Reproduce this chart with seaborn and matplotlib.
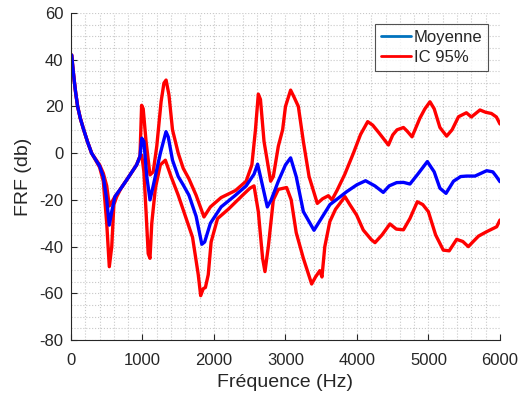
import numpy as np
import pandas as pd
import seaborn as sns
import matplotlib.pyplot as plt
from matplotlib.lines import Line2D
from matplotlib.ticker import MultipleLocator

# values
freq_up = [10, 25, 42, 65, 93, 130, 172, 230, 289, 400, 452, 500, 536, 570, 615, 700, 778, 918, 965, 988, 1010, 1050,
           1105, 1150, 1200, 1260, 1300, 1330, 1370, 1420, 1500, 1570, 1650, 1750, 1860, 1950, 2100, 2300, 2450, 2530,
           2580, 2620, 2650, 2700, 2793, 2830, 2900, 2960, 3000, 3072, 3120, 3180, 3250, 3330, 3445, 3520, 3600, 3650,
           3720, 3830, 3950, 4050, 4150, 4220, 4300, 4440, 4500, 4560, 4650, 4700, 4770, 4880, 4950, 5021, 5080, 5160,
           5254, 5330, 5420, 5530, 5600, 5720, 5800, 5880, 5950, 6000]
ic_up = [42, 37, 32, 26, 20, 15, 10.6, 5, 0, -5, -8.6, -14, -22.6, -21, -18.6, -15, -11.5, -5, -1.4, 20.5, 19, 5,
         -9.3, -8, 3, 22, 30, 31.3, 25, 10, 0, -6.5, -11, -18, -27.3, -23, -19, -16, -12, -5,
         10, 25.3, 23, 5, -12, -10, 3, 10, 20, 27, 24, 20, 5, -10, -21.5, -19.5, -18.2, -20,
         -16, -9, 0, 8, 13.5, 12, 9, 3.5, 7.8, 10, 11, 9.5, 7, 15, 19, 22, 19, 11,
         7.3, 10, 15.6, 17.3, 15.5, 18.5, 17.5, 17, 15.5, 12.5]

freq_mean = [10, 25, 42, 65, 93, 130, 172, 230, 289, 400, 452, 500, 536, 570, 615, 700, 778, 918, 965, 990, 1020,
             1060, 1105, 1150, 1250, 1329, 1360, 1420, 1500, 1570, 1650, 1750, 1830, 1870, 1950, 2100, 2300, 2450,
             2560, 2610, 2650, 2746, 2800, 2900, 3000, 3072, 3150, 3250, 3399, 3500, 3622, 3750, 3855, 4000, 4120,
             4250, 4368, 4450, 4555, 4650, 4741, 4850, 4984, 5080, 5160, 5245, 5350, 5450, 5534, 5650, 5814, 5900,
             5950, 6000]
moyenne = [42, 37, 32, 26, 20, 15, 10.6, 5, 0, -5.5, -10, -20, -30.8, -25, -18.6, -15, -11.5, -5, -1.4, 6.4, 5,
           -10, -20, -14, 0, 9.2, 7, -3, -10, -13.6, -18, -27, -39, -38, -30, -23, -18, -14,
           -9, -4.7, -10, -23, -20, -12, -5, -2, -10, -25, -33, -28, -22, -19, -16.5, -13.5, -11.8,
           -14, -16.8, -14, -12.6, -12.5, -13.2, -9, -3.6, -8, -15, -17.2, -12, -10, -9.8, -9.8, -7.5, -8,
           -10, -12.2]

freq_low = [10, 25, 42, 65, 93, 130, 172, 230, 289, 400, 452, 500, 536, 570, 600, 640, 700, 778, 918, 965, 990, 1020,
            1050, 1080, 1105, 1130, 1180, 1250, 1320, 1400, 1500, 1618, 1700, 1780, 1814, 1850, 1880, 1920, 1960,
            2050, 2200, 2400, 2503, 2560, 2620, 2680, 2713, 2760, 2830, 2900, 3016, 3080, 3150, 3250, 3366, 3420,
            3480, 3510, 3550, 3620, 3700, 3832, 3900, 3995, 4088, 4200, 4252, 4350, 4461, 4550, 4650, 4740, 4844,
            4920, 4998, 5100, 5207, 5290, 5394, 5480, 5557, 5620, 5700, 5814, 5954, 6000]
ic_low = [42, 37, 32, 26, 20, 15, 10.6, 5, 0, -6, -12, -30, -48.6, -40, -22, -18.6, -15, -11.5, -5, -1.4, -0.9, -8,
          -25, -43, -45, -30, -15, -5, -3, -10, -18, -28.6, -36, -52, -61, -58, -57.5, -52, -38,
          -28, -24, -18, -15, -14, -25, -45, -50.7, -40, -20, -15.5, -14.7, -20, -34, -45, -56, -53,
          -50.3, -53, -40, -29.3, -24, -18.6, -22, -26.5, -32.9, -37, -38.3, -35, -30.3, -32.5, -32.8, -28, -20.8,
          -22, -25, -35, -41.5, -41.8, -36.9, -37.8, -40, -38, -35.5, -33.6, -31.5, -28.6]

sns.set_theme(style="white")
plt.rcParams['font.family'] = ['Liberation Sans', 'DejaVu Sans']
plt.rcParams['axes.unicode_minus'] = False

fig = plt.figure(figsize=(5.2, 4.01), dpi=100)
ax = fig.add_axes([0.1365, 0.152, 0.825, 0.8155])

sns.lineplot(x=freq_up, y=ic_up, color='#ff0000', linewidth=2.4, ax=ax)
sns.lineplot(x=freq_low, y=ic_low, color='#ff0000', linewidth=2.4, ax=ax)
sns.lineplot(x=freq_mean, y=moyenne, color='#0000ff', linewidth=2.4, ax=ax)

ax.set_xlim(0, 6000)
ax.set_ylim(-80, 60)
ax.xaxis.set_major_locator(MultipleLocator(1000))
ax.xaxis.set_minor_locator(MultipleLocator(200))
ax.yaxis.set_major_locator(MultipleLocator(20))
ax.yaxis.set_minor_locator(MultipleLocator(5))
ax.grid(True, which='both', linestyle=':', color='#c8c8c8', linewidth=0.8)
ax.set_axisbelow(True)

for s in ['top', 'right']:
    ax.spines[s].set_visible(False)
for s in ['left', 'bottom']:
    ax.spines[s].set_color('#262626')
    ax.spines[s].set_linewidth(0.8)
ax.tick_params(which='major', direction='in', length=4, width=0.8, color='#262626',
               labelsize=12, labelcolor='#262626', left=True, bottom=True)
ax.tick_params(axis='x', which='major', pad=9)
ax.tick_params(axis='y', which='major', pad=5.5)
ax.tick_params(which='minor', length=0)

ax.set_xlabel('Fréquence (Hz)', fontsize=14, color='#262626', labelpad=5)
ax.set_ylabel('FRF (db)', fontsize=14, color='#262626', labelpad=5)

handles = [Line2D([], [], color='#0072bd', linewidth=2),
           Line2D([], [], color='#ff0000', linewidth=2)]
leg = ax.legend(handles, ['Moyenne', 'IC 95%'], loc='upper right', bbox_to_anchor=(0.972, 0.966),
                fontsize=12, frameon=True, fancybox=False, edgecolor='#262626',
                handlelength=1.8, handletextpad=0.15, borderpad=0.35, labelspacing=0.3, borderaxespad=0)
leg.get_frame().set_linewidth(0.8)

fig.savefig('out.png', dpi=100, facecolor='white')
